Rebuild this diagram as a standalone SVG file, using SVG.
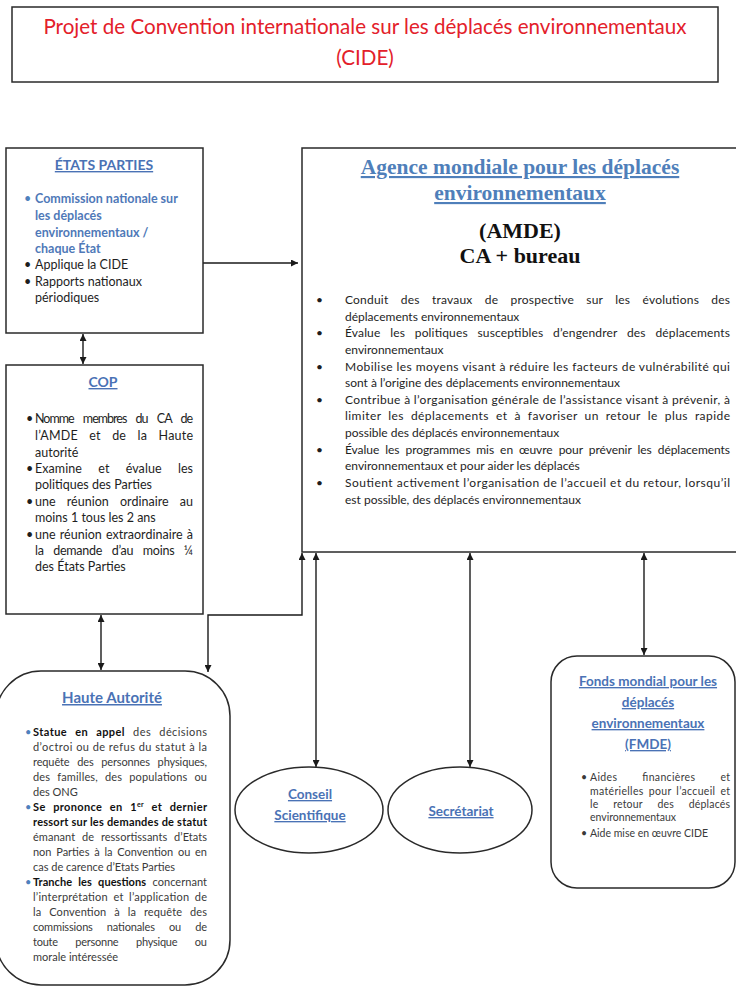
<svg xmlns="http://www.w3.org/2000/svg" width="736" height="987" viewBox="0 0 736 987">
  <style>
    .box { fill: #ffffff; stroke: #2a2a2a; stroke-width: 1.5; }
    .sans { font-family: Lato, "Liberation Sans", sans-serif; }
    .serif { font-family: "Liberation Serif", "Times New Roman", serif; }
    .head { font-family: Lato, "Liberation Sans", sans-serif; font-weight: bold; fill: #4a72b5; text-decoration: underline; }
    .blue { fill: #4f79b8; font-weight: bold; }
    .body { fill: #1e1e1e; }
    .grey { fill: #3a3a3a; }
    .b { font-weight: bold; fill: #111111; }
    .bul { fill: #1e1e1e; }
    .bulb { fill: #4f81bd; }
    .conn { fill: none; stroke: #1a1a1a; stroke-width: 1.4; }
  </style>
  <defs>
    <marker id="arrow" viewBox="0 0 10 10" refX="10" refY="5" markerWidth="7" markerHeight="7" markerUnits="userSpaceOnUse" orient="auto-start-reverse">
      <path d="M0,0 L10,5 L0,10 z" fill="#1a1a1a"/>
    </marker>
  </defs>
  <rect width="736" height="987" fill="#ffffff"/>

  <!-- title banner -->
  <g id="title">
    <rect class="box" x="12" y="7" width="706" height="75"/>
    <text class="sans" x="365" y="34" font-size="20.6" fill="#e3202a" text-anchor="middle">Projet de Convention internationale sur les déplacés environnementaux</text>
    <text class="sans" x="365" y="65" font-size="20.6" fill="#e3202a" text-anchor="middle">(CIDE)</text>
  </g>

  <!-- connectors -->
  <g id="connectors">
    <line class="conn" x1="203" y1="263" x2="298" y2="263" marker-end="url(#arrow)"/>
    <line class="conn" x1="83" y1="334" x2="83" y2="364" marker-start="url(#arrow)" marker-end="url(#arrow)"/>
    <line class="conn" x1="101" y1="615" x2="101" y2="670" marker-start="url(#arrow)" marker-end="url(#arrow)"/>
    <path class="conn" d="M208,672 V615 H302 V553" marker-start="url(#arrow)" marker-end="url(#arrow)"/>
    <line class="conn" x1="316" y1="553" x2="316" y2="767" marker-start="url(#arrow)" marker-end="url(#arrow)"/>
    <line class="conn" x1="470" y1="553" x2="470" y2="767" marker-start="url(#arrow)" marker-end="url(#arrow)"/>
    <line class="conn" x1="644" y1="553" x2="644" y2="655" marker-start="url(#arrow)" marker-end="url(#arrow)"/>
  </g>

  <!-- États Parties -->
  <g id="etats-parties">
    <rect class="box" x="6" y="148" width="197" height="185"/>
    <text class="head" x="104" y="170" font-size="14" text-anchor="middle">ÉTATS PARTIES</text>
    <g class="sans" font-size="12.5">
      <text class="bulb" x="24" y="203">•</text>
      <text class="blue" x="35" y="203">Commission nationale sur</text>
      <text class="blue" x="35" y="220">les déplacés</text>
      <text class="blue" x="35" y="237">environnementaux /</text>
      <text class="blue" x="35" y="253">chaque État</text>
      <text class="bul" x="24" y="269">•</text>
      <text class="body" x="35" y="269">Applique la CIDE</text>
      <text class="bul" x="24" y="286">•</text>
      <text class="body" x="35" y="286">Rapports nationaux</text>
      <text class="body" x="35" y="302">périodiques</text>
    </g>
  </g>

  <!-- AMDE -->
  <g id="amde">
    <rect class="box" x="302" y="148" width="440" height="404"/>
    <text class="serif" x="520" y="174" font-size="21.5" font-weight="bold" fill="#4f7fba" text-decoration="underline" text-anchor="middle">Agence mondiale pour les déplacés</text>
    <text class="serif" x="520" y="200" font-size="21.5" font-weight="bold" fill="#4f7fba" text-decoration="underline" text-anchor="middle">environnementaux</text>
    <text class="serif" x="520" y="238" font-size="22" font-weight="bold" fill="#111111" text-anchor="middle">(AMDE)</text>
    <text class="serif" x="520" y="263" font-size="22" font-weight="bold" fill="#111111" text-anchor="middle">CA + bureau</text>
    <g class="sans body" font-size="12">
      <text x="316" y="304">•</text>
      <text x="345" y="304" word-spacing="9" textLength="385" lengthAdjust="spacing">Conduit des travaux de prospective sur les évolutions des</text>
      <text x="345" y="321">déplacements environnementaux</text>
      <text x="316" y="337">•</text>
      <text x="345" y="337" word-spacing="6.5" textLength="385" lengthAdjust="spacing">Évalue les politiques susceptibles d’engendrer des déplacements</text>
      <text x="345" y="354">environnementaux</text>
      <text x="316" y="371">•</text>
      <text x="345" y="371" textLength="385" lengthAdjust="spacing">Mobilise les moyens visant à réduire les facteurs de vulnérabilité qui</text>
      <text x="345" y="387">sont à l’origine des déplacements environnementaux</text>
      <text x="316" y="404">•</text>
      <text x="345" y="404" textLength="385" lengthAdjust="spacing">Contribue à l’organisation générale de l’assistance visant à prévenir, à</text>
      <text x="345" y="420" word-spacing="3.5" textLength="385" lengthAdjust="spacing">limiter les déplacements et à favoriser un retour le plus rapide</text>
      <text x="345" y="437">possible des déplacés environnementaux</text>
      <text x="316" y="454">•</text>
      <text x="345" y="454" word-spacing="3" textLength="385" lengthAdjust="spacing">Évalue les programmes mis en œuvre pour prévenir les déplacements</text>
      <text x="345" y="470">environnementaux et pour aider les déplacés</text>
      <text x="316" y="487">•</text>
      <text x="345" y="487" textLength="385" lengthAdjust="spacing">Soutient activement l’organisation de l’accueil et du retour, lorsqu’il</text>
      <text x="345" y="504">est possible, des déplacés environnementaux</text>
    </g>
  </g>

  <!-- COP -->
  <g id="cop">
    <rect class="box" x="6" y="365" width="197" height="249"/>
    <text class="head" x="103" y="387" font-size="14" text-anchor="middle">COP</text>
    <g class="sans body" font-size="12.5">
      <text x="26" y="423">•</text>
      <text x="35" y="423" word-spacing="7" textLength="158" lengthAdjust="spacing">Nomme membres du CA de</text>
      <text x="35" y="440" word-spacing="8" textLength="158" lengthAdjust="spacing">l’AMDE et de la Haute</text>
      <text x="35" y="457">autorité</text>
      <text x="26" y="473">•</text>
      <text x="35" y="473" word-spacing="13" textLength="158" lengthAdjust="spacing">Examine et évalue les</text>
      <text x="35" y="489">politiques des Parties</text>
      <text x="26" y="506">•</text>
      <text x="35" y="506" word-spacing="8" textLength="158" lengthAdjust="spacing">une réunion ordinaire au</text>
      <text x="35" y="522">moins 1 tous les 2 ans</text>
      <text x="26" y="539">•</text>
      <text x="35" y="539" word-spacing="1" textLength="158" lengthAdjust="spacing">une réunion extraordinaire à</text>
      <text x="35" y="555" word-spacing="6.5" textLength="158" lengthAdjust="spacing">la demande d’au moins ¼</text>
      <text x="35" y="571">des États Parties</text>
    </g>
  </g>

  <!-- Haute Autorité -->
  <g id="haute-autorite">
    <rect class="box" x="-4" y="671" width="234" height="314" rx="45" ry="45"/>
    <text class="head" x="112" y="703" font-size="15" text-anchor="middle">Haute Autorité</text>
    <g class="sans grey" font-size="11">
      <text class="bulb" x="25" y="736">•</text>
      <text x="33" y="736" word-spacing="5" textLength="174" lengthAdjust="spacing"><tspan class="b">Statue en appel</tspan> des décisions</text>
      <text x="33" y="751" textLength="174" lengthAdjust="spacing">d’octroi ou de refus du statut à la</text>
      <text x="33" y="766" word-spacing="5" textLength="174" lengthAdjust="spacing">requête des personnes physiques,</text>
      <text x="33" y="781" word-spacing="4" textLength="174" lengthAdjust="spacing">des familles, des populations ou</text>
      <text x="33" y="796">des ONG</text>
      <text class="bulb" x="25" y="811">•</text>
      <text class="b" x="33" y="811" word-spacing="4.5" textLength="174" lengthAdjust="spacing">Se prononce en 1<tspan font-size="7" dy="-4">er</tspan><tspan dy="4"> et dernier</tspan></text>
      <text class="b" x="33" y="826" textLength="174" lengthAdjust="spacing">ressort sur les demandes de statut</text>
      <text x="33" y="841" word-spacing="4" textLength="174" lengthAdjust="spacing">émanant de ressortissants d’Etats</text>
      <text x="33" y="856" word-spacing="2" textLength="174" lengthAdjust="spacing">non Parties à la Convention ou en</text>
      <text x="33" y="871">cas de carence d’Etats Parties</text>
      <text class="bulb" x="25" y="886">•</text>
      <text x="33" y="886" word-spacing="3.5" textLength="174" lengthAdjust="spacing"><tspan class="b">Tranche les questions</tspan> concernant</text>
      <text x="33" y="901" word-spacing="2.5" textLength="174" lengthAdjust="spacing">l’interprétation et l’application de</text>
      <text x="33" y="916" word-spacing="5" textLength="174" lengthAdjust="spacing">la Convention à la requête des</text>
      <text x="33" y="931" word-spacing="11.5" textLength="174" lengthAdjust="spacing">commissions nationales ou de</text>
      <text x="33" y="946" word-spacing="15" textLength="174" lengthAdjust="spacing">toute personne physique ou</text>
      <text x="33" y="961">morale intéressée</text>
    </g>
  </g>

  <!-- Conseil Scientifique -->
  <g id="conseil-scientifique">
    <ellipse class="box" cx="309" cy="810" rx="74" ry="43"/>
    <text class="head" x="310" y="799" font-size="13.5" text-anchor="middle">Conseil</text>
    <text class="head" x="310" y="820" font-size="13.5" text-anchor="middle">Scientifique</text>
  </g>

  <!-- Secrétariat -->
  <g id="secretariat">
    <ellipse class="box" cx="460" cy="810" rx="72" ry="43"/>
    <text class="head" x="461" y="816" font-size="13.5" text-anchor="middle">Secrétariat</text>
  </g>

  <!-- FMDE -->
  <g id="fmde">
    <rect class="box" x="551" y="656" width="184" height="232" rx="26" ry="26"/>
    <text class="head" x="648" y="686" font-size="13.5" text-anchor="middle">Fonds mondial pour les</text>
    <text class="head" x="648" y="707" font-size="13.5" text-anchor="middle">déplacés</text>
    <text class="head" x="648" y="728" font-size="13.5" text-anchor="middle">environnementaux</text>
    <text class="head" x="648" y="749" font-size="13.5" text-anchor="middle">(FMDE)</text>
    <g class="sans grey" font-size="10.5">
      <text x="581" y="781">•</text>
      <text x="590" y="781" word-spacing="22" textLength="140" lengthAdjust="spacing">Aides financières et</text>
      <text x="590" y="795" word-spacing="2" textLength="140" lengthAdjust="spacing">matérielles pour l’accueil et</text>
      <text x="590" y="808" word-spacing="12" textLength="140" lengthAdjust="spacing">le retour des déplacés</text>
      <text x="590" y="821">environnementaux</text>
      <text x="581" y="837">•</text>
      <text x="590" y="837">Aide mise en œuvre CIDE</text>
    </g>
  </g>
</svg>
